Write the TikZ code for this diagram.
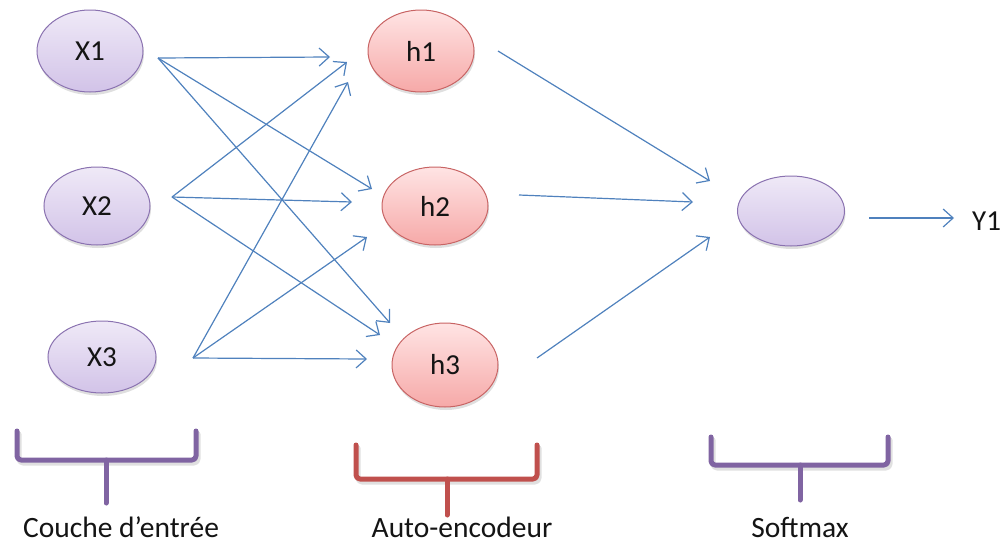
\documentclass[tikz,border=0pt]{standalone}
\usepackage{fontspec}
\setmainfont{Carlito}
\usetikzlibrary{shapes.geometric,arrows.meta,shadows}
\definecolor{lilacTop}{HTML}{EFE9F7}
\definecolor{lilacBot}{HTML}{D2C3E8}
\definecolor{lilacLine}{HTML}{8A72B0}
\definecolor{roseTop}{HTML}{FFE4E4}
\definecolor{roseBot}{HTML}{F6A9A8}
\definecolor{roseLine}{HTML}{C86464}
\definecolor{linkBlue}{HTML}{4F81BD}
\definecolor{bracePurple}{HTML}{8064A2}
\definecolor{braceRed}{HTML}{C0504D}
\definecolor{inkText}{HTML}{141414}

\begin{document}
\begin{tikzpicture}[x=1pt,y=-1pt,
  neuron/.style={ellipse, inner sep=0pt, minimum width=106pt, line width=1pt,
    font=\fontsize{29}{31}\selectfont, text=inkText,
    drop shadow={opacity=0.25, shadow xshift=1pt, shadow yshift=-3pt}},
  inputN/.style={neuron, draw=lilacLine, top color=lilacTop, bottom color=lilacBot},
  hiddenN/.style={neuron, draw=roseLine, top color=roseTop, bottom color=roseBot},
  link/.style={draw=linkBlue, line width=1.2pt, -{Straight Barb[length=10pt,width=18pt]}},
  bracket/.style={line width=5pt, line cap=round, line join=round, rounded corners=4pt},
  bracketShade/.style={bracket, draw=black, opacity=0.12},
  caption/.style={font=\fontsize{29.5}{31}\selectfont, text=inkText, anchor=base, inner sep=0pt},
]
\useasboundingbox (0,0) rectangle (1008,544);

% input layer
\node[inputN, minimum height=82pt] (x1) at (90,51) {X1};
\node[inputN, minimum height=78pt] (x2) at (97,206) {X2};
\node[inputN, minimum height=72pt, minimum width=108pt] (x3) at (102,357) {X3};

% auto-encoder layer
\node[hiddenN, minimum height=82pt] (h1) at (421,51) {h1};
\node[hiddenN, minimum height=78pt] (h2) at (435,206) {h2};
\node[hiddenN, minimum height=84pt] (h3) at (445,365) {h3};

% softmax unit and output
\node[inputN, minimum height=70pt, minimum width=107pt] (sm) at (791,211) {};
\node[font=\fontsize{29}{31}\selectfont, text=inkText, anchor=west, inner sep=0pt] (y1) at (972,221) {Y1};

% connector ends
\coordinate (x1o) at (158,58);
\coordinate (x2o) at (172,197);
\coordinate (x3o) at (193,358);
\coordinate (h1a) at (330,57);
\coordinate (h1b) at (347,62);
\coordinate (h1c) at (348,82);
\coordinate (h2a) at (372,189);
\coordinate (h2b) at (352,202);
\coordinate (h2c) at (367,237);
\coordinate (h3a) at (390,323);
\coordinate (h3b) at (380,335);
\coordinate (h3c) at (367,359);
\coordinate (h1o) at (498,51);
\coordinate (h2o) at (519,195);
\coordinate (h3o) at (537,358);
\coordinate (sma) at (710,181);
\coordinate (smb) at (693,202);
\coordinate (smc) at (710,237);
\coordinate (smo) at (869,218);
\coordinate (y1i) at (954,218);

% input to auto-encoder
\draw[link] (x1o) -- (h1a);
\draw[link] (x1o) -- (h2a);
\draw[link] (x1o) -- (h3a);
\draw[link] (x2o) -- (h1b);
\draw[link] (x2o) -- (h2b);
\draw[link] (x2o) -- (h3b);
\draw[link] (x3o) -- (h1c);
\draw[link] (x3o) -- (h2c);
\draw[link] (x3o) -- (h3c);

% auto-encoder to softmax
\draw[link] (h1o) -- (sma);
\draw[link] (h2o) -- (smb);
\draw[link] (h3o) -- (smc);
\draw[link] (smo) -- (y1i);

% layer brackets
\begin{scope}[xshift=2pt, yshift=-3pt]
  \draw[bracketShade] (17,431) -- (17,460) -- (196,460) -- (196,431);
  \draw[bracketShade] (356,445) -- (356,479) -- (537,479) -- (537,445);
  \draw[bracketShade] (711,437) -- (711,465) -- (888,465) -- (888,437);
\end{scope}
\draw[bracket, draw=bracePurple] (17,431) -- (17,460) -- (196,460) -- (196,431);
\draw[bracket, draw=bracePurple] (106,460) -- (106,503);
\draw[bracket, draw=braceRed] (356,445) -- (356,479) -- (537,479) -- (537,445);
\draw[bracket, draw=braceRed] (447,479) -- (447,515);
\draw[bracket, draw=bracePurple] (711,437) -- (711,465) -- (888,465) -- (888,437);
\draw[bracket, draw=bracePurple] (800,465) -- (800,500);

% captions
\node[caption] (c1) at (121,537) {Couche d’entrée};
\node[caption] (c2) at (462,537) {Auto-encodeur};
\node[caption] (c3) at (800,537) {Softmax};
\end{tikzpicture}
\end{document}
